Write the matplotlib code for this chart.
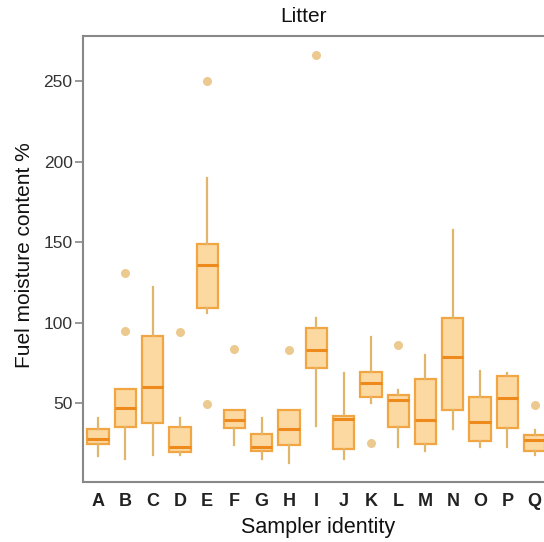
import matplotlib
matplotlib.use("Agg")
import matplotlib.pyplot as plt

plt.rcParams['font.family'] = ['Liberation Sans', 'DejaVu Sans']

samplers = list("ABCDEFGHIJKLMNOPQ")
whislo = [17, 15, 18, 18, 106, 24, 15, 13, 36, 15, 50, 23, 20, 34, 23, 23, 18]
q1 = [24.5, 35, 37.6, 19.6, 109, 34.5, 20.2, 24, 71.7, 21.4, 53.7, 35, 24.5, 45.7, 26.4, 34.5, 20.2]
med = [27.6, 47, 60, 22.7, 136, 39.4, 22.7, 34, 83, 40, 62.4, 52, 39.4, 78.6, 38.2, 53, 27]
q3 = [33.9, 59, 91.6, 35, 149, 45.7, 30.7, 45.7, 96.6, 41.9, 69.3, 55, 65, 103, 53.7, 66.8, 30]
whishi = [41, 59, 122, 41, 190, 45.7, 40.7, 45.7, 103, 69, 91, 58, 80, 157.5, 70, 68.6, 33]
outliers = [[], [95, 130.5], [], [94], [250, 49.5], [83.5], [], [83], [266],
            [], [25], [86], [], [], [], [], [48.8]]

stats = []
for i, s in enumerate(samplers):
    stats.append(dict(label=s, whislo=whislo[i], q1=q1[i], med=med[i],
                      q3=q3[i], whishi=whishi[i], fliers=outliers[i]))

fig = plt.figure(figsize=(5.44, 5.42), dpi=100)
ax = fig.add_axes([83 / 544, 60 / 542, 468 / 544, 446 / 542])

ax.bxp(stats, positions=range(1, 18), widths=0.78, patch_artist=True,
       showcaps=False,
       boxprops=dict(facecolor='#fdd9a2', edgecolor='#f2a643', linewidth=1.6),
       medianprops=dict(color='#ee8a1c', linewidth=2.2),
       whiskerprops=dict(color='#e0b56c', linewidth=1.6),
       flierprops=dict(marker='o', markersize=6.5, markerfacecolor='#ecc98e',
                       markeredgecolor='none'))

ax.set_xlim(0.45, 17.6)
ax.set_ylim(1, 278)
ax.set_yticks([50, 100, 150, 200, 250])
ax.tick_params(axis='y', length=6, width=1.2, color='#888888', labelsize=12.5,
               pad=1.5, labelcolor='#333333')
ax.tick_params(axis='x', length=0, labelsize=13, pad=8, labelcolor='#222222')
for lab in ax.get_xticklabels():
    lab.set_fontweight('bold')
for sp in ax.spines.values():
    sp.set_color('#888888')
    sp.set_linewidth(1.5)

fig.text(303 / 544, 1 - 17 / 542, "Litter", ha='center', va='center',
         fontsize=15, color='#111111')
fig.text(318 / 544, 1 - 528 / 542, "Sampler identity", ha='center',
         va='center', fontsize=15.5, color='#111111')
fig.text(25 / 544, 1 - 255 / 542, "Fuel moisture content %", ha='center',
         va='center', rotation=90, fontsize=15, color='#111111')

fig.savefig("out.png", dpi=100)
